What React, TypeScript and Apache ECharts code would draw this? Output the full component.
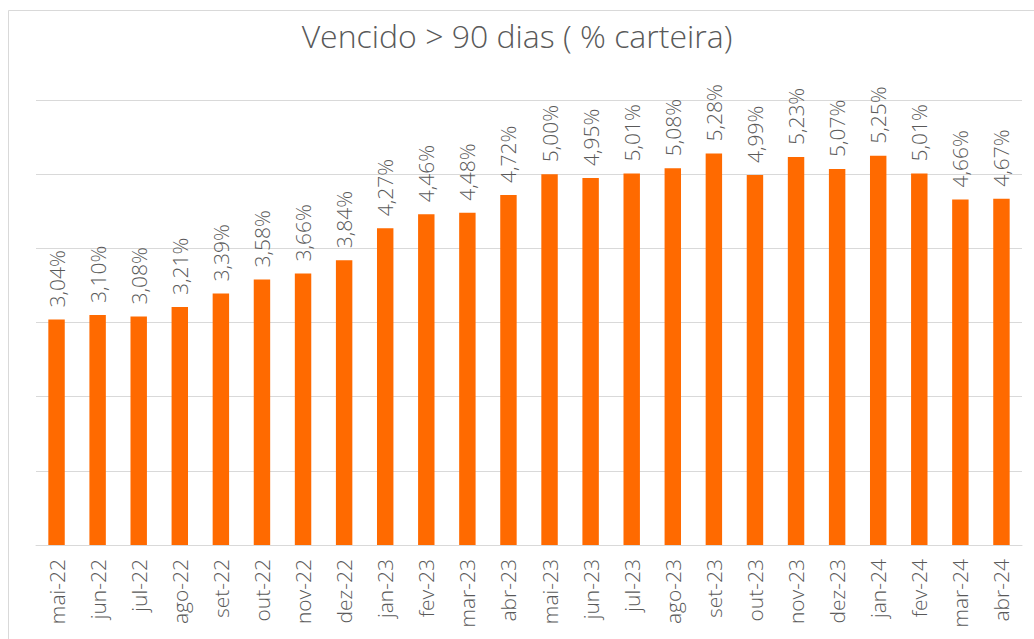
import React, { useEffect, useRef } from "react";
import * as echarts from "echarts";

const categories = ["mai-22","jun-22","jul-22","ago-22","set-22","out-22","nov-22","dez-22","jan-23","fev-23","mar-23","abr-23","mai-23","jun-23","jul-23","ago-23","set-23","out-23","nov-23","dez-23","jan-24","fev-24","mar-24","abr-24"];
const values = [3.04,3.10,3.08,3.21,3.39,3.58,3.66,3.84,4.27,4.46,4.48,4.72,5.00,4.95,5.01,5.08,5.28,4.99,5.23,5.07,5.25,5.01,4.66,4.67];
const titleText = "Vencido > 90 dias ( % carteira)";

export default function App() {
  const ref = useRef<HTMLDivElement>(null);
  useEffect(() => {
    document.body.style.margin = "0";
    const chart = echarts.init(ref.current!, null, { renderer: "svg" });
    chart.setOption({
      animation: false,
      textStyle: { fontFamily: "Open Sans" },
      title: {
        text: titleText,
        left: "center",
        top: 14,
        textStyle: { fontSize: 32, fontWeight: 300, color: "#595959", fontFamily: "Open Sans" },
      },
      graphic: [
        {
          type: "rect",
          shape: { x: 8.5, y: 10.5, width: 1100, height: 700 },
          style: { fill: "none", stroke: "#d9d9d9", lineWidth: 1 },
          silent: true,
        },
      ],
      grid: { left: 36, right: 12, top: 100, bottom: 94 },
      xAxis: {
        type: "category",
        data: categories,
        axisLine: { lineStyle: { color: "#d9d9d9" } },
        axisTick: { show: false },
        axisLabel: { rotate: 90, fontSize: 21, fontWeight: 300, color: "#595959", margin: 14, interval: 0, fontFamily: "Open Sans" },
      },
      yAxis: {
        type: "value",
        min: 0,
        max: 6,
        interval: 1,
        axisLabel: { show: false },
        axisLine: { show: false },
        axisTick: { show: false },
        splitLine: { lineStyle: { color: "#d9d9d9" } },
      },
      series: [
        {
          type: "bar",
          data: values,
          barWidth: "40%",
          itemStyle: { color: "#FF6A00" },
          label: {
            show: true,
            position: "top",
            rotate: 90,
            align: "left",
            verticalAlign: "middle",
            distance: 12,
            fontSize: 21,
            fontWeight: 300,
            fontFamily: "Open Sans",
            color: "#595959",
            formatter: (p: any) => p.value.toFixed(2).replace(".", ",") + "%",
          },
        },
      ],
    });
    return () => chart.dispose();
  }, []);
  return <div ref={ref} style={{ width: 1034, height: 639 }} />;
}
